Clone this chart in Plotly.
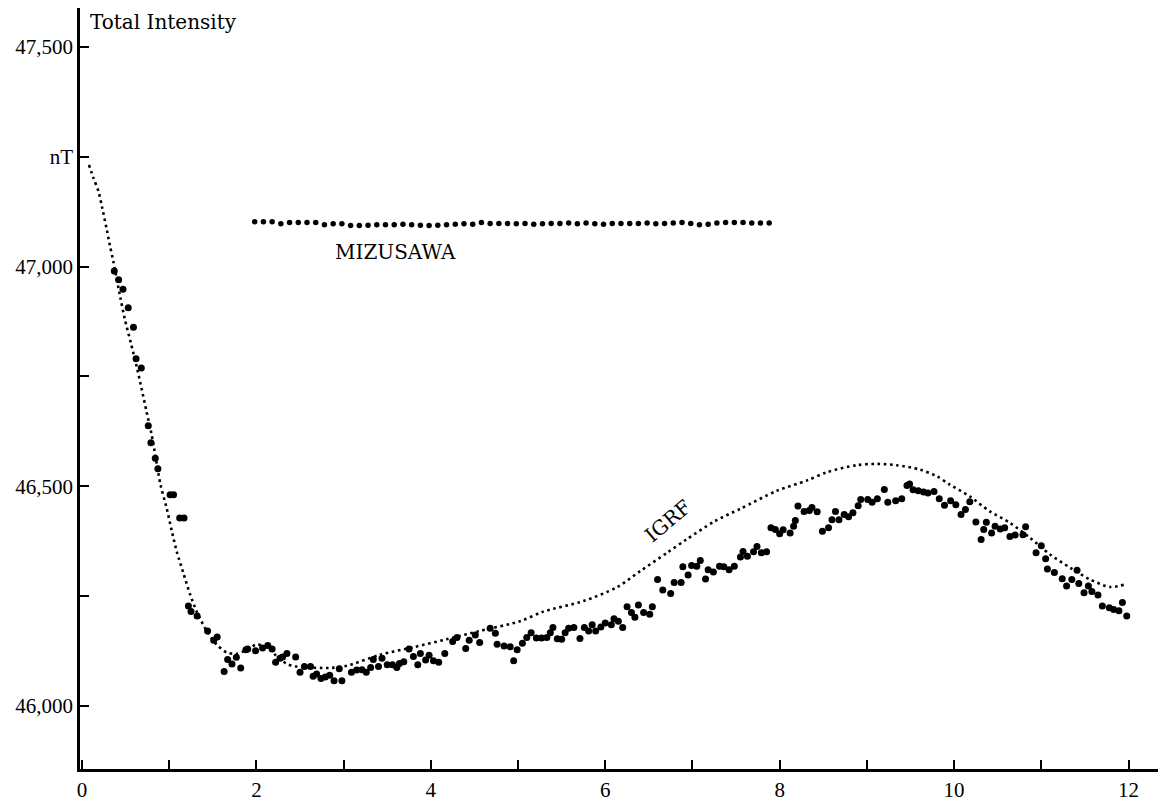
import plotly.graph_objects as go

# Observed total intensity (nT) along the profile
obs_x = [0.37,0.42,0.47,0.53,0.59,0.62,0.68,0.76,0.79,0.84,0.87,1.01,1.05,1.12,1.17,1.22,1.25,1.32,1.44,1.51,1.55,
         1.63,1.67,1.72,1.77,1.82,1.88,1.90,1.99,2.07,2.13,2.18,2.22,2.27,2.30,2.35,2.45,2.50,2.55,2.62,2.65,2.69,
         2.74,2.79,2.84,2.89,2.95,2.98,3.09,3.15,3.21,3.26,3.31,3.34,3.40,3.44,3.50,3.56,3.61,3.64,3.69,3.75,3.80,
         3.85,3.88,3.94,3.98,4.03,4.09,4.16,4.25,4.30,4.40,4.44,4.51,4.56,4.68,4.74,4.76,4.84,4.91,4.95,4.99,5.05,
         5.10,5.15,5.21,5.27,5.33,5.37,5.40,5.45,5.50,5.54,5.58,5.64,5.71,5.76,5.81,5.85,5.89,5.95,6.00,6.07,6.10,
         6.15,6.20,6.25,6.30,6.34,6.38,6.44,6.51,6.54,6.60,6.66,6.75,6.79,6.87,6.89,6.95,6.99,7.05,7.09,7.15,7.18,
         7.24,7.31,7.36,7.42,7.48,7.55,7.58,7.63,7.70,7.74,7.79,7.85,7.90,7.95,8.00,8.04,8.12,8.16,8.18,8.21,8.28,
         8.34,8.37,8.43,8.49,8.56,8.60,8.64,8.68,8.74,8.79,8.84,8.90,8.93,9.01,9.06,9.12,9.20,9.24,9.33,9.40,9.46,
         9.49,9.53,9.59,9.65,9.70,9.77,9.83,9.89,9.96,10.02,10.08,10.13,10.18,10.25,10.31,10.34,10.37,10.43,10.47,
         10.53,10.58,10.64,10.70,10.79,10.82,10.94,11.00,11.05,11.07,11.15,11.24,11.29,11.35,11.41,11.43,11.49,
         11.54,11.58,11.65,11.70,11.78,11.83,11.89,11.93,11.98]
obs_y = [46990,46970,46948,46906,46862,46790,46769,46638,46599,46564,46540,46481,46481,46428,46428,46228,46215,46205,46171,46150,46157,
         46079,46106,46096,46111,46087,46128,46130,46126,46132,46138,46130,46100,46109,46112,46120,46112,46077,46090,46090,46068,46073,
         46063,46066,46070,46058,46085,46058,46077,46082,46083,46077,46088,46106,46090,46109,46094,46094,46088,46097,46101,46130,46113,
         46094,46120,46105,46116,46103,46100,46120,46147,46156,46131,46150,46162,46145,46177,46166,46141,46137,46135,46103,46128,46143,
         46156,46167,46155,46155,46156,46167,46179,46153,46152,46167,46177,46179,46154,46179,46171,46185,46171,46180,46189,46185,46199,
         46193,46179,46226,46213,46202,46230,46213,46209,46226,46288,46264,46256,46281,46281,46317,46298,46320,46318,46331,46289,46310,
         46305,46318,46317,46310,46318,46339,46352,46341,46351,46363,46349,46351,46406,46402,46392,46401,46394,46409,46422,46455,46443,
         46445,46452,46442,46398,46406,46424,46443,46424,46436,46431,46440,46456,46470,46470,46464,46472,46493,46464,46467,46472,46502,
         46505,46492,46490,46487,46485,46488,46472,46457,46467,46458,46436,46447,46465,46419,46379,46402,46418,46394,46409,
         46403,46406,46386,46389,46390,46408,46349,46365,46335,46312,46304,46290,46273,46288,46309,46279,46258,
         46273,46261,46253,46228,46224,46220,46217,46236,46205]

# IGRF reference field along the profile
igrf_x = [0.08,0.13,0.19,0.23,0.28,0.32,0.36,0.44,0.49,0.56,0.63,0.68,0.74,0.80,0.90,0.97,1.03,1.09,1.16,1.24,1.32,1.43,1.54,
          1.66,1.77,1.89,2.00,2.12,2.23,2.35,2.46,2.86,3.04,3.42,3.80,4.18,4.56,5.02,5.29,5.75,6.13,6.40,6.71,6.93,7.25,7.55,
          7.97,8.31,8.54,8.88,9.11,9.34,9.61,9.80,9.95,10.18,10.41,10.64,10.87,11.10,11.33,11.56,11.79,11.96]
igrf_y = [47231,47202,47170,47135,47088,47048,47011,46929,46881,46826,46770,46725,46670,46616,46504,46451,46398,46349,46304,46254,46213,46171,46141,
          46122,46119,46128,46140,46134,46114,46096,46090,46087,46092,46117,46134,46152,46171,46193,46215,46239,46270,46307,46349,46379,46420,46449,
          46490,46513,46532,46548,46551,46548,46538,46523,46504,46477,46443,46417,46383,46345,46315,46288,46271,46277]

# Mizusawa reference station
miz_x = [round(1.98 + 0.1 * i, 2) for i in range(60)]
miz_y = [47102,47102,47102,47097,47100,47100,47100,47100,47095,47097,47097,47093,47093,47094,47095,47095,47095,47096,47095,47094,
         47093,47094,47095,47096,47097,47096,47100,47098,47098,47098,47097,47098,47096,47097,47098,47098,47099,47097,47099,47097,
         47096,47098,47098,47098,47098,47099,47097,47098,47099,47100,47098,47095,47096,47099,47100,47100,47100,47099,47099,47099]

x_ticks = list(range(0, 13))
x_ticktext = [str(v) if v % 2 == 0 else "" for v in x_ticks]
y_ticks = [46000, 46250, 46500, 46750, 47000, 47250, 47500]
y_ticktext = ["46,000", "", "46,500", "", "47,000", "nT", "47,500"]

TICK_FONT = "Liberation Serif"
TEXT_FONT = "DejaVu Serif"

fig = go.Figure()
fig.add_trace(go.Scatter(x=igrf_x, y=igrf_y, mode="lines",
                         line=dict(color="black", width=2.6, dash="2.6px,3.6px", shape="spline", smoothing=0.8),
                         hoverinfo="skip"))
fig.add_trace(go.Scatter(x=obs_x, y=obs_y, mode="markers",
                         marker=dict(color="black", size=7)))
fig.add_trace(go.Scatter(x=miz_x, y=miz_y, mode="markers",
                         marker=dict(color="black", size=5.5)))

fig.add_annotation(x=3.59, y=47032, text="MIZUSAWA", showarrow=False,
                   font=dict(family=TEXT_FONT, size=20, color="black"))
fig.add_annotation(x=6.72, y=46420, text="IGRF", showarrow=False, textangle=-40,
                   font=dict(family=TEXT_FONT, size=20, color="black"))
fig.add_annotation(x=0.07, y=47588, xref="x", yref="y", text="Total Intensity", showarrow=False,
                   xanchor="left", yanchor="top", yshift=0,
                   font=dict(family=TEXT_FONT, size=20, color="black"))

fig.update_layout(
    width=1158, height=794,
    margin=dict(l=72, r=0, t=0, b=30),
    paper_bgcolor="white", plot_bgcolor="white",
    showlegend=False,
    font=dict(family=TICK_FONT, size=21, color="black"),
    xaxis=dict(range=[-0.023, 12.43], tickvals=x_ticks, ticktext=x_ticktext,
               ticks="inside", ticklen=9, tickwidth=1.5, tickcolor="black",
               showline=True, linecolor="black", linewidth=2.5,
               showgrid=False, zeroline=False, tickfont=dict(family=TICK_FONT, size=21)),
    yaxis=dict(range=[45857, 47588], tickvals=y_ticks, ticktext=y_ticktext,
               ticks="inside", ticklen=9, tickwidth=1.5, tickcolor="black",
               showline=True, linecolor="black", linewidth=2.5,
               showgrid=False, zeroline=False, tickfont=dict(family=TICK_FONT, size=21)),
)

fig.write_html("out.html")
